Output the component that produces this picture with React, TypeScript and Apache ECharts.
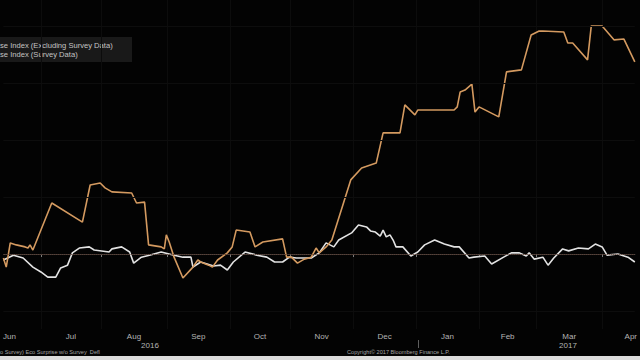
import React, { useEffect, useRef } from "react";
import * as echarts from "echarts";

// x = business-day index counted from 2016-06-01, y = index value
const excludingSurvey: [number, number][] = [
  [8.9, -1.4], [9.9, -4.6], [11.3, 3.9], [13.4, 3.2], [16.5, 2.5], [17.5, 2.1], [18.2, 3.2], [19.2, 1.4],
  [25.8, 17.9], [36.5, 11.2], [39.2, 24.2], [42.7, 24.9], [44.4, 23.2], [46.8, 21.8], [53.7, 21.4],
  [55.4, 17.9], [58.2, 18.2], [59.6, 3.2], [64.0, 2.5], [65.1, 1.8], [65.8, 6.7], [66.8, 4.2],
  [68.5, -1.1], [71.6, -8.4], [75.1, -4.6], [76.8, -2.1], [77.8, -2.8], [80.6, -3.9], [81.9, -4.6],
  [83.7, -2.1], [87.1, 0.4], [88.8, 2.5], [90.2, 8.4], [95.0, 7.7], [96.8, 2.5], [99.5, 4.2],
  [106.4, 5.3], [107.8, -1.1], [109.5, -1.1], [111.6, -3.2], [114.0, -1.8], [116.4, -1.1], [118.1, 2.1],
  [119.2, 0.4], [121.6, 2.5], [123.6, 4.9], [130.2, 26.0], [134.0, 30.2], [139.1, 31.9], [141.5, 42.5],
  [147.4, 42.5], [149.1, 52.3], [152.6, 48.8], [153.6, 50.5], [166.3, 50.5], [167.4, 51.6], [168.4, 56.8],
  [170.1, 57.5], [172.5, 59.6], [173.6, 49.8], [175.0, 51.6], [181.9, 48.1], [184.6, 63.9], [189.8, 64.6],
  [193.2, 76.8], [196.0, 78.2], [197.3, 78.2], [204.6, 77.9], [206.0, 74.0], [207.7, 74.0], [212.9, 68.1],
  [214.2, 80.0], [218.0, 80.0], [222.2, 75.1], [225.6, 75.4], [229.4, 67.4],
];

const surveyData: [number, number][] = [
  [8.9, -2.1], [12.4, -0.4], [15.8, -1.4], [19.2, -4.6], [22.0, -6.3], [24.4, -8.1], [27.2, -8.1],
  [28.9, -4.9], [31.3, -3.9], [33.0, 0.4], [35.4, 2.1], [38.9, 2.5], [40.6, 1.4], [45.8, 0.7], [46.8, 1.8],
  [50.2, 2.5], [53.0, 0.7], [54.4, -3.2], [57.1, -1.1], [59.9, -0.4], [64.0, 0.7], [68.5, -0.4],
  [71.6, -1.1], [74.4, -1.1], [75.1, -4.6], [77.8, -2.8], [82.3, -4.2], [84.7, -3.9], [87.1, -5.6],
  [89.2, -2.8], [93.3, 0.7], [97.4, -0.4], [100.9, -1.1], [103.6, -2.8], [106.4, -2.8], [108.8, -1.1],
  [111.2, -1.4], [116.4, -1.4], [119.2, 0.4], [121.6, 3.9], [124.3, 2.5], [126.0, 4.9], [130.5, 7.4],
  [132.9, 10.2], [135.7, 9.5], [137.1, 8.1], [138.8, 7.7], [140.5, 6.3], [141.5, 8.4], [142.6, 6.0],
  [143.9, 6.7], [145.0, 4.9], [146.0, 2.5], [148.4, 2.5], [151.2, -0.7], [153.6, 0.7], [156.0, 3.2],
  [159.5, 4.9], [162.9, 3.5], [166.3, 2.5], [168.1, 2.5], [171.5, -1.4], [173.2, -1.1], [177.0, -0.7],
  [179.4, -3.5], [183.6, -1.1], [186.3, 0.4], [189.1, 0.4], [191.5, -0.7], [192.5, 0.4], [194.3, -1.8],
  [197.3, -1.1], [199.1, -3.9], [201.1, -1.4], [204.2, 1.8], [206.3, 1.1], [209.7, 2.1], [213.2, 1.8],
  [215.6, 3.5], [218.0, 2.5], [219.7, -0.4], [223.5, 0.0], [227.0, -1.1], [229.4, -2.8],
];

const monthNames = ["Jun", "Jul", "Aug", "Sep", "Oct", "Nov", "Dec", "Jan", "Feb", "Mar", "Apr"];
const monthStarts = [
  "2016-06-01", "2016-07-01", "2016-08-01", "2016-09-01", "2016-10-01", "2016-11-01",
  "2016-12-01", "2017-01-01", "2017-02-01", "2017-03-01", "2017-04-01", "2017-05-01",
];
const yearLabels = ["2016", "2017"];
const gridValues = [-20, 20, 40, 60, 80];
const legendLines = ["se Index (Excluding Survey Data)", "se Index (Survey Data)"];
const footerLeft = "o Survey) Eco Surprise w/o Survey  Defl";
const footerRight = "Copyright\u00a9 2017 Bloomberg Finance L.P.";

const X_MIN = 8.9;
const X_MAX = 229.4;
const Y_MIN = -26.3;
const Y_MAX = 89.1;

function businessDayIndex(iso: string): number {
  const start = Date.UTC(2016, 5, 1);
  const [y, m, d] = iso.split("-").map(Number);
  const end = Date.UTC(y, m - 1, d);
  let count = 0;
  for (let t = start; t < end; t += 86400000) {
    const wd = new Date(t).getUTCDay();
    if (wd !== 0 && wd !== 6) count++;
  }
  return count;
}

export default function App() {
  const ref = useRef<HTMLDivElement>(null);
  useEffect(() => {
    if (!ref.current) return;
    const chart = echarts.init(ref.current, null, { renderer: "svg" });
    const starts = monthStarts.map(businessDayIndex);
    const tickValues = starts.slice(1, 11);
    const mids = monthNames.map((_, i) => (starts[i] + starts[i + 1]) / 2);
    const font = "Liberation Sans, Arial, sans-serif";

    chart.setOption({
      animation: false,
      backgroundColor: "#030303",
      grid: { left: 0, right: 0, top: 0, bottom: 31, containLabel: false },
      xAxis: {
        type: "value",
        min: X_MIN,
        max: X_MAX,
        axisLine: { show: true, lineStyle: { color: "#5e5e5e", width: 1 } },
        axisTick: { show: true, customValues: tickValues, length: 3, lineStyle: { color: "#7a7a7a" } },
        axisLabel: {
          show: true,
          customValues: mids,
          color: "#b4b4b4",
          fontSize: 8,
          fontFamily: font,
          margin: 3,
          formatter: (v: number) => {
            let best = 0;
            mids.forEach((m, i) => {
              if (Math.abs(m - v) < Math.abs(mids[best] - v)) best = i;
            });
            return monthNames[best];
          },
        },
        splitLine: { show: true, lineStyle: { color: "#0c0c0c", width: 1 } },
      },
      yAxis: {
        type: "value",
        min: Y_MIN,
        max: Y_MAX,
        axisLine: { show: false },
        axisTick: { show: false },
        axisLabel: { show: false },
        splitLine: { show: false },
      },
      series: [
        {
          name: "Citi Eco Surprise Index (Survey Data)",
          type: "line",
          data: surveyData,
          showSymbol: false,
          lineStyle: { color: "#e2e2e2", width: 1.6 },
          z: 3,
          markLine: {
            silent: true,
            symbol: "none",
            label: { show: false },
            data: [
              ...gridValues.map((v) => ({ yAxis: v, lineStyle: { color: "#0d0d0d", width: 1, type: "solid" } })),
              { yAxis: 0, lineStyle: { color: "#3c1a0c", width: 1, type: "dotted" } },
            ],
          },
        },
        {
          name: "Citi Eco Surprise Index (Excluding Survey Data)",
          type: "line",
          data: excludingSurvey,
          showSymbol: false,
          lineStyle: { color: "#d49a60", width: 1.6 },
          z: 4,
        },
      ],
      graphic: [
        { type: "rect", shape: { x: 0, y: 37, width: 132, height: 25 }, style: { fill: "#191919" }, silent: true },
        {
          type: "text",
          x: 0,
          y: 45,
          style: { text: legendLines[0], fill: "#c4c4c4", font: `7.6px ${font}`, textVerticalAlign: "middle" },
        },
        {
          type: "text",
          x: 0,
          y: 54,
          style: { text: legendLines[1], fill: "#c4c4c4", font: `7.6px ${font}`, textVerticalAlign: "middle" },
        },
        {
          type: "text",
          x: 150,
          y: 345,
          style: { text: yearLabels[0], fill: "#b4b4b4", font: `8px ${font}`, textAlign: "center", textVerticalAlign: "middle" },
        },
        {
          type: "text",
          x: 568,
          y: 345,
          style: { text: yearLabels[1], fill: "#b4b4b4", font: `8px ${font}`, textAlign: "center", textVerticalAlign: "middle" },
        },
        { type: "line", shape: { x1: 418.5, y1: 340, x2: 418.5, y2: 348 }, style: { stroke: "#5e5e5e", lineWidth: 1 } },
        {
          type: "text",
          x: 0,
          y: 352,
          style: { text: footerLeft, fill: "#a4a4a4", font: `5.6px ${font}`, textVerticalAlign: "middle" },
        },
        {
          type: "text",
          x: 347,
          y: 352,
          style: { text: footerRight, fill: "#a4a4a4", font: `5.6px ${font}`, textVerticalAlign: "middle" },
        },
        { type: "rect", shape: { x: 0, y: 356, width: 640, height: 4 }, style: { fill: "#dcdcdc" }, silent: true },
      ],
    });
    return () => chart.dispose();
  }, []);

  return (
    <div
      ref={ref}
      style={{ position: "fixed", left: 0, top: 0, width: 640, height: 360, background: "#000" }}
    />
  );
}
